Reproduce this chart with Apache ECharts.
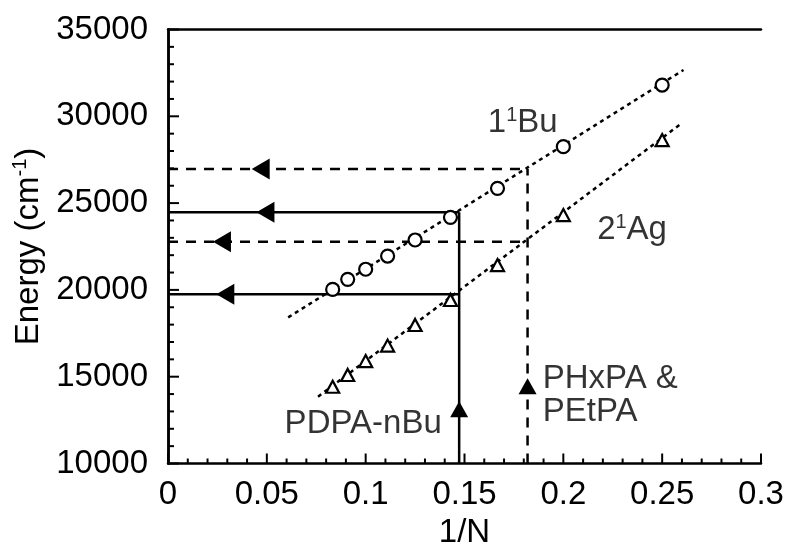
<!DOCTYPE html>
<html>
<head>
<meta charset="utf-8">
<script src="https://cdn.jsdelivr.net/npm/echarts@6/dist/echarts.min.js"></script>
<style>html,body{margin:0;padding:0;background:#fff}#c{width:788px;height:545px}</style>
</head>
<body>
<div id="c"></div>
<script>
// ---- data ----
const invN = [0.0833, 0.0909, 0.1, 0.1111, 0.125, 0.1429, 0.1667, 0.2, 0.25];
const bu1 = [20030, 20610, 21190, 21950, 22875, 24180, 25850, 28250, 31800];
const ag2 = [14420, 15100, 15900, 16790, 17980, 19420, 21430, 24310, 28630];
const buFit = [[0.0608, 18420], [0.2608, 32670]];
const agFit = [[0.0759, 13850], [0.2599, 29600]];
const solidX = 0.1473;
const solidLevels = [24470, 19750];
const dashX = 0.1819;
const dashLevels = [26970, 22780];
const leftArrows = [[0.0493, 24470], [0.029, 19750], [0.0469, 26970], [0.0273, 22780]];
const upArrows = [[solidX, 13130], [dashX, 14450]];
const xTicks = [0, 0.05, 0.1, 0.15, 0.2, 0.25, 0.3];
const yTicks = [10000, 15000, 20000, 25000, 30000, 35000];
const xMinorTicks = [0.01, 0.02, 0.03, 0.04, 0.06, 0.07, 0.08, 0.09, 0.11, 0.12, 0.13, 0.14,
  0.16, 0.17, 0.18, 0.19, 0.21, 0.22, 0.23, 0.24, 0.26, 0.27, 0.28, 0.29];
const yMinorTicks = [11000, 12000, 13000, 14000, 16000, 17000, 18000, 19000, 21000, 22000, 23000, 24000,
  26000, 27000, 28000, 29000, 31000, 32000, 33000, 34000];
const notes = [
  [0.1618, 29610, '{n|1}{s|1}{n|Bu}'],
  [0.2171, 23450, '{n|2}{s|1}{n|Ag}'],
  [0.059, 12300, '{n|PDPA-nBu}'],
  [0.1896, 14900, '{n|PHxPA &}'],
  [0.1896, 13000, '{n|PEtPA}']
];

const FONT = 'Liberation Sans';
const chart = echarts.init(document.getElementById('c'));
const xMin = xTicks[0], xMax = xTicks[xTicks.length - 1];
const yMin = yTicks[0], yMax = yTicks[yTicks.length - 1];
const series = [];

series.push({type: 'line', data: buFit, symbol: 'none', silent: true,
  lineStyle: {color: '#000', width: 2.5, type: [4, 4]}});
series.push({type: 'line', data: agFit, symbol: 'none', silent: true,
  lineStyle: {color: '#000', width: 2.5, type: [4, 4]}});

solidLevels.forEach(function (y) {
  series.push({type: 'line', data: [[0, y], [solidX, y]], symbol: 'none',
    lineStyle: {color: '#000', width: 2.5, type: 'solid'}});
});
series.push({type: 'line', data: [[solidX, yMin], [solidX, Math.max.apply(null, solidLevels)]], symbol: 'none',
  lineStyle: {color: '#000', width: 2.5, type: 'solid'}});
dashLevels.forEach(function (y) {
  series.push({type: 'line', data: [[0, y], [dashX, y]], symbol: 'none',
    lineStyle: {color: '#000', width: 2.5, type: [10, 8]}});
});
series.push({type: 'line', data: [[dashX, yMin], [dashX, Math.max.apply(null, dashLevels)]], symbol: 'none',
  lineStyle: {color: '#000', width: 2.5, type: [10, 8]}});

series.push({type: 'scatter', data: invN.map(function (x, i) { return [x, bu1[i]]; }),
  symbol: 'circle', symbolSize: 13,
  itemStyle: {color: '#fff', borderColor: '#000', borderWidth: 2.2, opacity: 1}, z: 5});
series.push({type: 'scatter', data: invN.map(function (x, i) { return [x, ag2[i]]; }),
  symbol: 'triangle', symbolSize: [13, 12],
  itemStyle: {color: '#fff', borderColor: '#000', borderWidth: 2.2, opacity: 1}, z: 5});

series.push({type: 'scatter', data: leftArrows,
  symbol: 'triangle', symbolSize: [21, 18], symbolRotate: 90,
  itemStyle: {color: '#000', opacity: 1}, z: 6});
series.push({type: 'scatter', data: upArrows,
  symbol: 'triangle', symbolSize: [18, 16],
  itemStyle: {color: '#000', opacity: 1}, z: 6});

// axis ticks (inward), placed through the axis scales
function tickSeries(data, size, offset) {
  return {type: 'scatter', data: data, symbol: 'rect', symbolSize: size, symbolOffset: offset,
    clip: false, silent: true, itemStyle: {color: '#000', opacity: 1}, z: 8};
}
series.push(tickSeries(xTicks.map(function (v) { return [v, yMin]; }), [2, 10], [0, -5]));
series.push(tickSeries(xMinorTicks.map(function (v) { return [v, yMin]; }), [2, 5], [0, -2.5]));
series.push(tickSeries(yTicks.map(function (v) { return [xMin, v]; }), [11, 2], [5.5, 0]));
series.push(tickSeries(yMinorTicks.map(function (v) { return [xMin, v]; }), [6, 2], [3, 0]));

const richN = {fontFamily: FONT, fontSize: 33, color: '#000', lineHeight: 36};
const richS = {fontFamily: FONT, fontSize: 20, color: '#000', verticalAlign: 'top', lineHeight: 20};

series.push({type: 'scatter', data: notes.map(function (n) { return {value: [n[0], n[1]], text: n[2]}; }),
  symbolSize: 0, z: 7,
  label: {show: true, position: [0, 0], align: 'left', verticalAlign: 'middle', color: '#000',
    formatter: function (p) { return p.data.text; },
    rich: {n: richN, s: richS}}});

const frameAxis = {axisLine: {show: true, lineStyle: {color: '#000', width: 2.5}},
  axisTick: {show: false}, minorTick: {show: false}, axisLabel: {show: false}, splitLine: {show: false}};

chart.setOption({
  animation: false,
  backgroundColor: '#fff',
  grid: {left: 168, right: 27, top: 29.5, bottom: 81.5, outerBoundsMode: 'none'},
  xAxis: [
    {type: 'value', position: 'bottom', min: xMin, max: xMax, interval: 0.05,
      name: '1/N', nameLocation: 'middle', nameGap: 49,
      nameTextStyle: {fontFamily: FONT, fontSize: 33, color: '#000'},
      axisLine: {show: true, lineStyle: {color: '#000', width: 2.5}},
      axisTick: {show: false}, minorTick: {show: false},
      splitLine: {show: false},
      axisLabel: {fontFamily: FONT, fontSize: 33, color: '#000', margin: 15,
        formatter: function (v) { return String(+v.toFixed(2)); }}},
    Object.assign({type: 'value', position: 'top', min: xMin, max: xMax}, frameAxis)
  ],
  yAxis: [
    {type: 'value', position: 'left', min: yMin, max: yMax, interval: 5000,
      name: '{n|Energy (cm}{s|-1}{n|)}', nameLocation: 'middle', nameGap: 121, nameRotate: 90,
      nameTextStyle: {rich: {n: richN, s: richS}},
      axisLine: {show: true, lineStyle: {color: '#000', width: 2.5}},
      axisTick: {show: false}, minorTick: {show: false},
      splitLine: {show: false},
      axisLabel: {fontFamily: FONT, fontSize: 33, color: '#000', margin: 20,
        formatter: function (v) { return String(v); }}},
    Object.assign({type: 'value', position: 'right', min: yMin, max: yMax}, frameAxis)
  ],
  series: series
});
</script>
</body>
</html>
